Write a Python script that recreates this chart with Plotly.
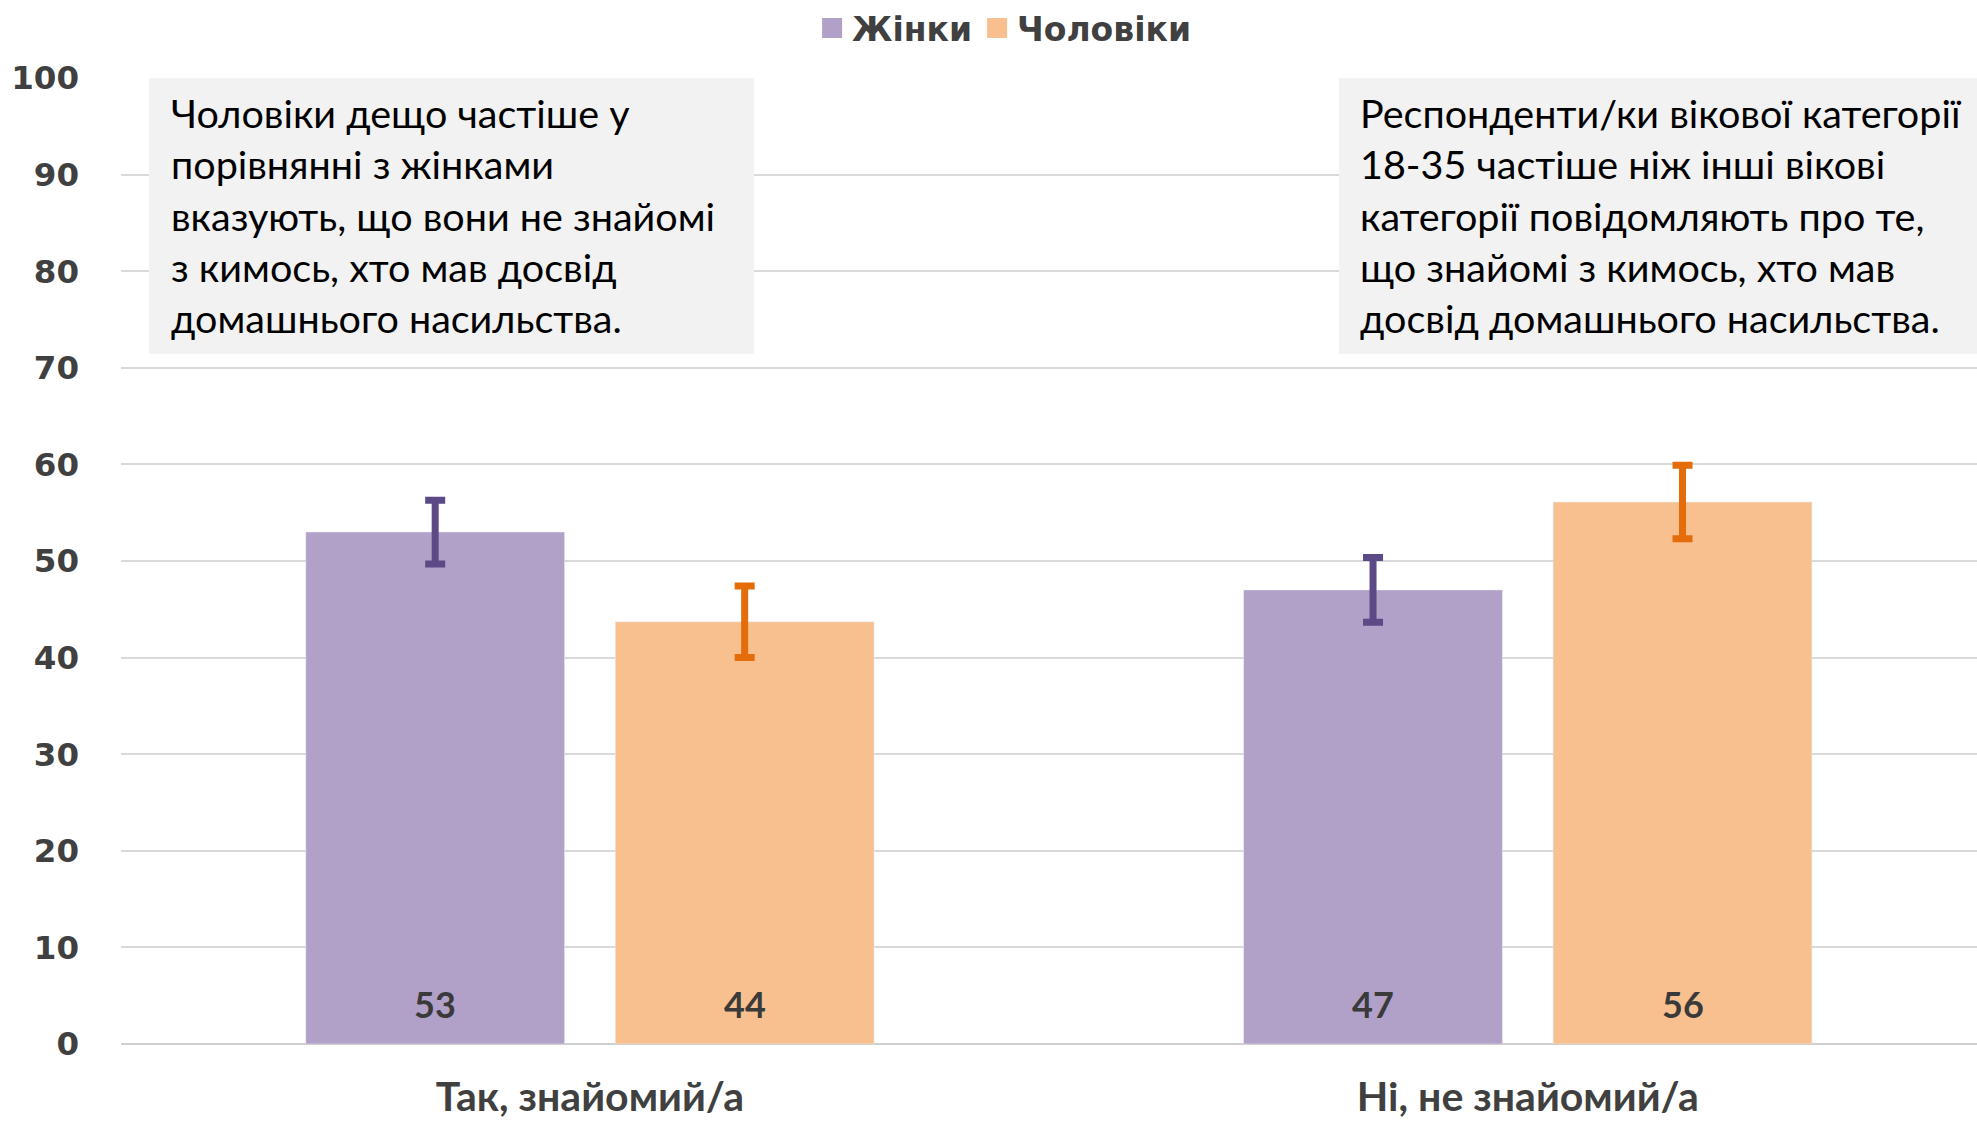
import plotly.graph_objects as go

categories = ["Так, знайомий/а", "Ні, не знайомий/а"]
series_names = ["Жінки", "Чоловіки"]
women_values = [53.0, 47.0]
men_values = [43.7, 56.1]
women_err = [3.3, 3.35]
men_err = [3.7, 3.8]
y_ticks = [0, 10, 20, 30, 40, 50, 60, 70, 80, 90, 100]

note_left = ("Чоловіки дещо частіше у<br>порівнянні з жінками<br>вказують, що вони не знайомі"
             "<br>з кимось, хто мав досвід<br>домашнього насильства.")
note_right = ("Респонденти/ки вікової категорії<br>18-35 частіше ніж інші вікові<br>"
              "категорії повідомляють про те,<br>що знайомі з кимось, хто мав<br>"
              "досвід домашнього насильства.")

W_FILL = "#B1A0C7"
M_FILL = "#F9C08F"
W_ERR = "#5B4A86"
M_ERR = "#E46C0A"
TXT = "#404040"

BARGAP = 0.34
BARGROUPGAP = 0.164
slot = (1 - BARGAP) / 2

fig = go.Figure()
fig.add_trace(go.Bar(
    x=categories, y=women_values, name=series_names[0], marker_color=W_FILL,
    error_y=dict(type="data", array=women_err, color=W_ERR, thickness=7, width=10),
    showlegend=False))
fig.add_trace(go.Bar(
    x=categories, y=men_values, name=series_names[1], marker_color=M_FILL,
    error_y=dict(type="data", array=men_err, color=M_ERR, thickness=7, width=10),
    showlegend=False))

# legend entries
for nm, col in zip(series_names, [W_FILL, M_FILL]):
    fig.add_trace(go.Scatter(x=[None], y=[None], mode="markers", name=nm,
                             marker=dict(symbol="square", size=16, color=col,
                                         line=dict(color=col, width=4))))

annotations = []
for i, cat in enumerate(categories):
    for s, vals in enumerate([women_values, men_values]):
        off = (-0.5 + s) * slot
        annotations.append(dict(
            x=i + off, y=0, xref="x", yref="y", text=f"<b>{round(vals[i])}</b>",
            showarrow=False, yanchor="bottom", yshift=16,
            font=dict(family="Lato", size=36, color="#3A3A3A")))

NOTE_FONT = dict(family="Lato", size=39.5, color="#000000")
annotations.append(dict(
    xref="paper", yref="paper", x=0.0259, y=0.8577, xanchor="left", yanchor="middle",
    text=note_left, align="left", showarrow=False, font=NOTE_FONT))
annotations.append(dict(
    xref="paper", yref="paper", x=0.6665, y=0.8577, xanchor="left", yanchor="middle",
    text=note_right, align="left", showarrow=False, font=NOTE_FONT))

shapes = [
    dict(type="rect", xref="paper", yref="paper", x0=0.0151, x1=0.3411, y0=0.7143, y1=1.0,
         fillcolor="#F2F2F2", line=dict(width=0), layer="above"),
    dict(type="rect", xref="paper", yref="paper", x0=0.6562, x1=1.01, y0=0.7143, y1=1.0,
         fillcolor="#F2F2F2", line=dict(width=0), layer="above"),
]

fig.update_layout(
    width=1977, height=1121,
    margin=dict(l=121, r=0, t=78, b=77),
    paper_bgcolor="white", plot_bgcolor="white",
    barmode="group", bargap=BARGAP, bargroupgap=BARGROUPGAP,
    annotations=annotations, shapes=shapes,
    legend=dict(orientation="h", x=0.4758, xanchor="center", y=1.052, yanchor="middle",
                font=dict(family="DejaVu Sans", size=33, color=TXT, weight="bold"),
                itemsizing="trace", bgcolor="rgba(0,0,0,0)"),
    xaxis=dict(range=[-0.5, 1.479], showgrid=False, showline=False, ticks="",
               ticklabelstandoff=25, automargin=False,
               tickfont=dict(family="Lato", size=41, color=TXT, weight="bold")),
    yaxis=dict(range=[0, 100], tickvals=y_ticks, showgrid=True, gridcolor="#D9D9D9",
               gridwidth=2, zeroline=True, zerolinecolor="#CFCFCF", zerolinewidth=2,
               showline=False, ticks="", ticklabelstandoff=41, automargin=False,
               tickfont=dict(family="DejaVu Sans", size=32.5, color=TXT, weight="bold")),
)

fig.write_html("out.html", config={"displayModeBar": False},
               post_script="document.body.style.margin='0';")
